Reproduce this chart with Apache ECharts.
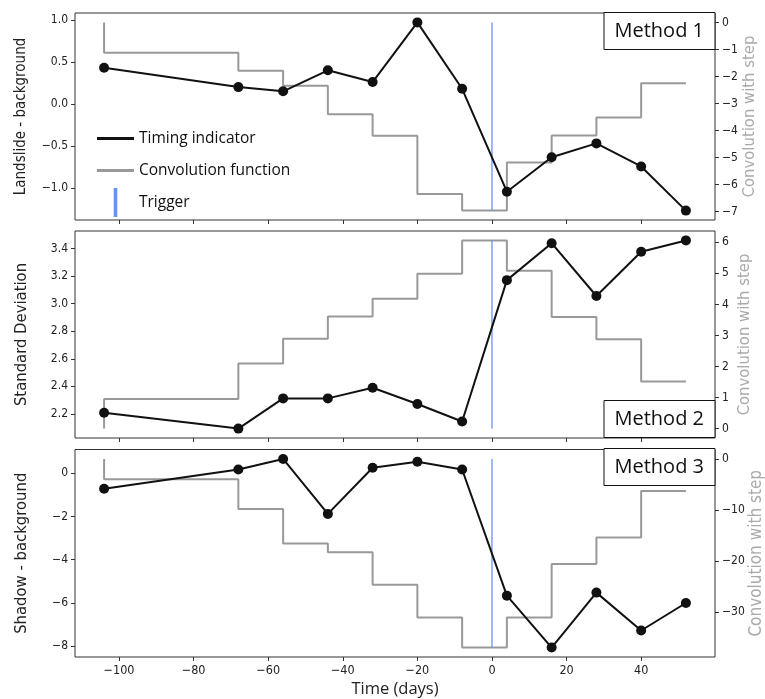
<!DOCTYPE html>
<html>
<head>
<meta charset="utf-8">
<title>Timing indicators</title>
<script src="https://cdn.jsdelivr.net/npm/echarts@6/dist/echarts.min.js"></script>
<style>
  html, body { margin: 0; padding: 0; background: #fff; }
  #chart { width: 765px; height: 699px; }
</style>
</head>
<body>
<div id="chart"></div>
<script>
// sample days relative to the trigger
var days = [-104, -68, -56, -44, -32, -20, -8, 4, 16, 28, 40, 52]
var triggerDay = 0
var dayTicks = [-100, -80, -60, -40, -20, 0, 20, 40]

// method 1: landslide - background
var m1Timing = [0.43, 0.20, 0.15, 0.40, 0.26, 0.97, 0.18, -1.045, -0.635, -0.47, -0.745, -1.27]
var m1Conv = [0, -1.12, -1.79, -2.35, -3.40, -4.20, -6.36, -6.97, -5.19, -4.19, -3.52, -2.25]
var m1Ticks = [-1.0, -0.5, 0.0, 0.5, 1.0]
var m1ConvTicks = [-7, -6, -5, -4, -3, -2, -1, 0]

// method 2: standard deviation
var m2Timing = [2.209, 2.094, 2.313, 2.313, 2.39, 2.272, 2.145, 3.17, 3.438, 3.055, 3.376, 3.458]
var m2Conv = [0, 0.95, 2.10, 2.89, 3.61, 4.18, 4.99, 6.06, 5.08, 3.59, 2.88, 1.52]
var m2Ticks = [2.2, 2.4, 2.6, 2.8, 3.0, 3.2, 3.4]
var m2ConvTicks = [0, 1, 2, 3, 4, 5, 6]

// method 3: shadow - background
var m3Timing = [-0.72, 0.17, 0.66, -1.88, 0.25, 0.53, 0.17, -5.66, -8.06, -5.52, -7.27, -6.0]
var m3Conv = [0, -4.0, -9.8, -16.6, -18.3, -24.7, -31.1, -37.0, -31.1, -20.6, -15.4, -6.3]
var m3Ticks = [-8, -6, -4, -2, 0]
var m3ConvTicks = [-30, -20, -10, 0]

var FONT = '"DejaVu Sans Condensed", "DejaVu Sans", sans-serif'
var TEXT_FONT = '"Open Sans", "Noto Sans", sans-serif'

// matplotlib-like 5% margins
function limits(arr) {
  var lo = Math.min.apply(null, arr)
  var hi = Math.max.apply(null, arr)
  var m = (hi - lo) * 0.05
  return [lo - m, hi + m]
}
function minus(s) {
  return String(s).replace('-', '\u2212')
}
function pairs(xs, ys) {
  return xs.map(function(x, i) { return [x, ys[i]] })
}

var xLim = limits(days)
var panels = [
  { timing: m1Timing, conv: m1Conv, ticks: m1Ticks, convTicks: m1ConvTicks, digits: 1,
    name: 'Landslide - background', nameSize: 15, rightGap: 26, top: 13, height: 207, method: 'Method 1', boxTop: 12 },
  { timing: m2Timing, conv: m2Conv, ticks: m2Ticks, convTicks: m2ConvTicks, digits: 1,
    name: 'Standard Deviation', nameSize: 16.5, rightGap: 21, top: 231, height: 207, method: 'Method 2', boxTop: 400 },
  { timing: m3Timing, conv: m3Conv, ticks: m3Ticks, convTicks: m3ConvTicks, digits: 0,
    name: 'Shadow - background', nameSize: 16.5, rightGap: 33, top: 449.5, height: 207.5, method: 'Method 3', boxTop: 448 }
]

var grid = []
var xAxis = []
var yAxis = []
var series = []
var title = []

panels.forEach(function(p, i) {
  var last = i === panels.length - 1
  grid.push({
    left: 75, right: 50, top: p.top, height: p.height,
    outerBoundsMode: 'none', containLabel: false,
    show: true, borderColor: '#333', borderWidth: 1, backgroundColor: 'transparent'
  })
  xAxis.push({
    type: 'value', gridIndex: i, min: xLim[0], max: xLim[1],
    axisLine: { show: false, onZero: false },
    axisTick: { show: true, length: 4, lineStyle: { color: '#333' }, customValues: dayTicks },
    axisLabel: {
      show: last, customValues: dayTicks, margin: 7, color: '#222', fontSize: 12.5, fontFamily: FONT,
      formatter: function(v) { return minus(v) }
    },
    splitLine: { show: false },
    name: last ? 'Time (days)' : '',
    nameLocation: 'middle', nameGap: 24,
    nameTextStyle: { fontSize: 16.5, color: '#222', fontFamily: TEXT_FONT }
  })
  var yl = limits(p.timing)
  var yr = limits(p.conv)
  yAxis.push({
    type: 'value', gridIndex: i, position: 'left', min: yl[0], max: yl[1],
    axisLine: { show: false, onZero: false },
    axisTick: { show: true, length: 4, lineStyle: { color: '#333' }, customValues: p.ticks },
    axisLabel: {
      customValues: p.ticks, margin: 7, color: '#222', fontSize: 12, fontFamily: FONT,
      formatter: function(v) { return minus(v.toFixed(p.digits)) }
    },
    splitLine: { show: false },
    name: p.name, nameLocation: 'middle', nameGap: 47 - (p.nameSize - 13.5) * 0.6, nameRotate: 90,
    nameTextStyle: { fontSize: p.nameSize, color: '#222', fontFamily: FONT }
  })
  yAxis.push({
    type: 'value', gridIndex: i, position: 'right', min: yr[0], max: yr[1],
    axisLine: { show: false, onZero: false },
    axisTick: { show: true, length: 4, lineStyle: { color: '#333' }, customValues: p.convTicks },
    axisLabel: {
      customValues: p.convTicks, margin: 7, color: '#222', fontSize: 12, fontFamily: FONT,
      hideOverlap: false,
      formatter: function(v) { return minus(v) }
    },
    splitLine: { show: false },
    name: 'Convolution with step', nameLocation: 'middle', nameGap: p.rightGap, nameRotate: 90,
    nameMoveOverlap: false,
    nameTextStyle: { fontSize: last ? 17 : 16.5, color: '#aaa', fontFamily: FONT }
  })

  series.push({
    name: 'Convolution function', type: 'line', step: 'start',
    xAxisIndex: i, yAxisIndex: 2 * i + 1,
    data: pairs(days, p.conv), showSymbol: false, symbol: 'none',
    lineStyle: { color: '#999', width: 2 }, itemStyle: { color: '#999' },
    animation: false, z: 2
  })
  series.push({
    name: 'Trigger', type: 'line', xAxisIndex: i, yAxisIndex: 2 * i,
    data: [[triggerDay, Math.min.apply(null, p.timing)], [triggerDay, Math.max.apply(null, p.timing)]],
    showSymbol: false, symbol: 'none',
    lineStyle: { color: '#6495ED', width: 1.3 }, itemStyle: { color: '#6495ED' },
    animation: false, z: 3
  })
  series.push({
    name: 'Timing indicator', type: 'line', xAxisIndex: i, yAxisIndex: 2 * i,
    data: pairs(days, p.timing), symbol: 'circle', symbolSize: 10,
    lineStyle: { color: '#111', width: 2 }, itemStyle: { color: '#111' },
    animation: false, z: 4
  })

  title.push({
    text: p.method, right: 50, top: p.boxTop,
    padding: [7, 11], borderColor: '#111', borderWidth: 1, backgroundColor: '#fff',
    textStyle: { fontSize: 20, lineHeight: 24, fontWeight: 'normal', color: '#111', fontFamily: TEXT_FONT }
  })
})

var chart = echarts.init(document.getElementById('chart'))
chart.setOption({
  backgroundColor: '#fff',
  animation: false,
  title: title,
  grid: grid,
  xAxis: xAxis,
  yAxis: yAxis,
  legend: {
    orient: 'vertical', left: 97, top: 123, padding: 0, itemWidth: 37, itemHeight: 29, itemGap: 1,
    selectedMode: false, symbolKeepAspect: true,
    textStyle: { fontSize: 15.5, lineHeight: 31, color: '#111', fontFamily: TEXT_FONT },
    data: [
      { name: 'Timing indicator', icon: 'path://M0,0h12v1h-12z', itemStyle: { color: '#111' } },
      { name: 'Convolution function', icon: 'path://M0,0h12v1h-12z', itemStyle: { color: '#999' } },
      { name: 'Trigger', icon: 'path://M0,0h1v8h-1z', itemStyle: { color: '#6495ED' } }
    ]
  },
  series: series
})
</script>
</body>
</html>
